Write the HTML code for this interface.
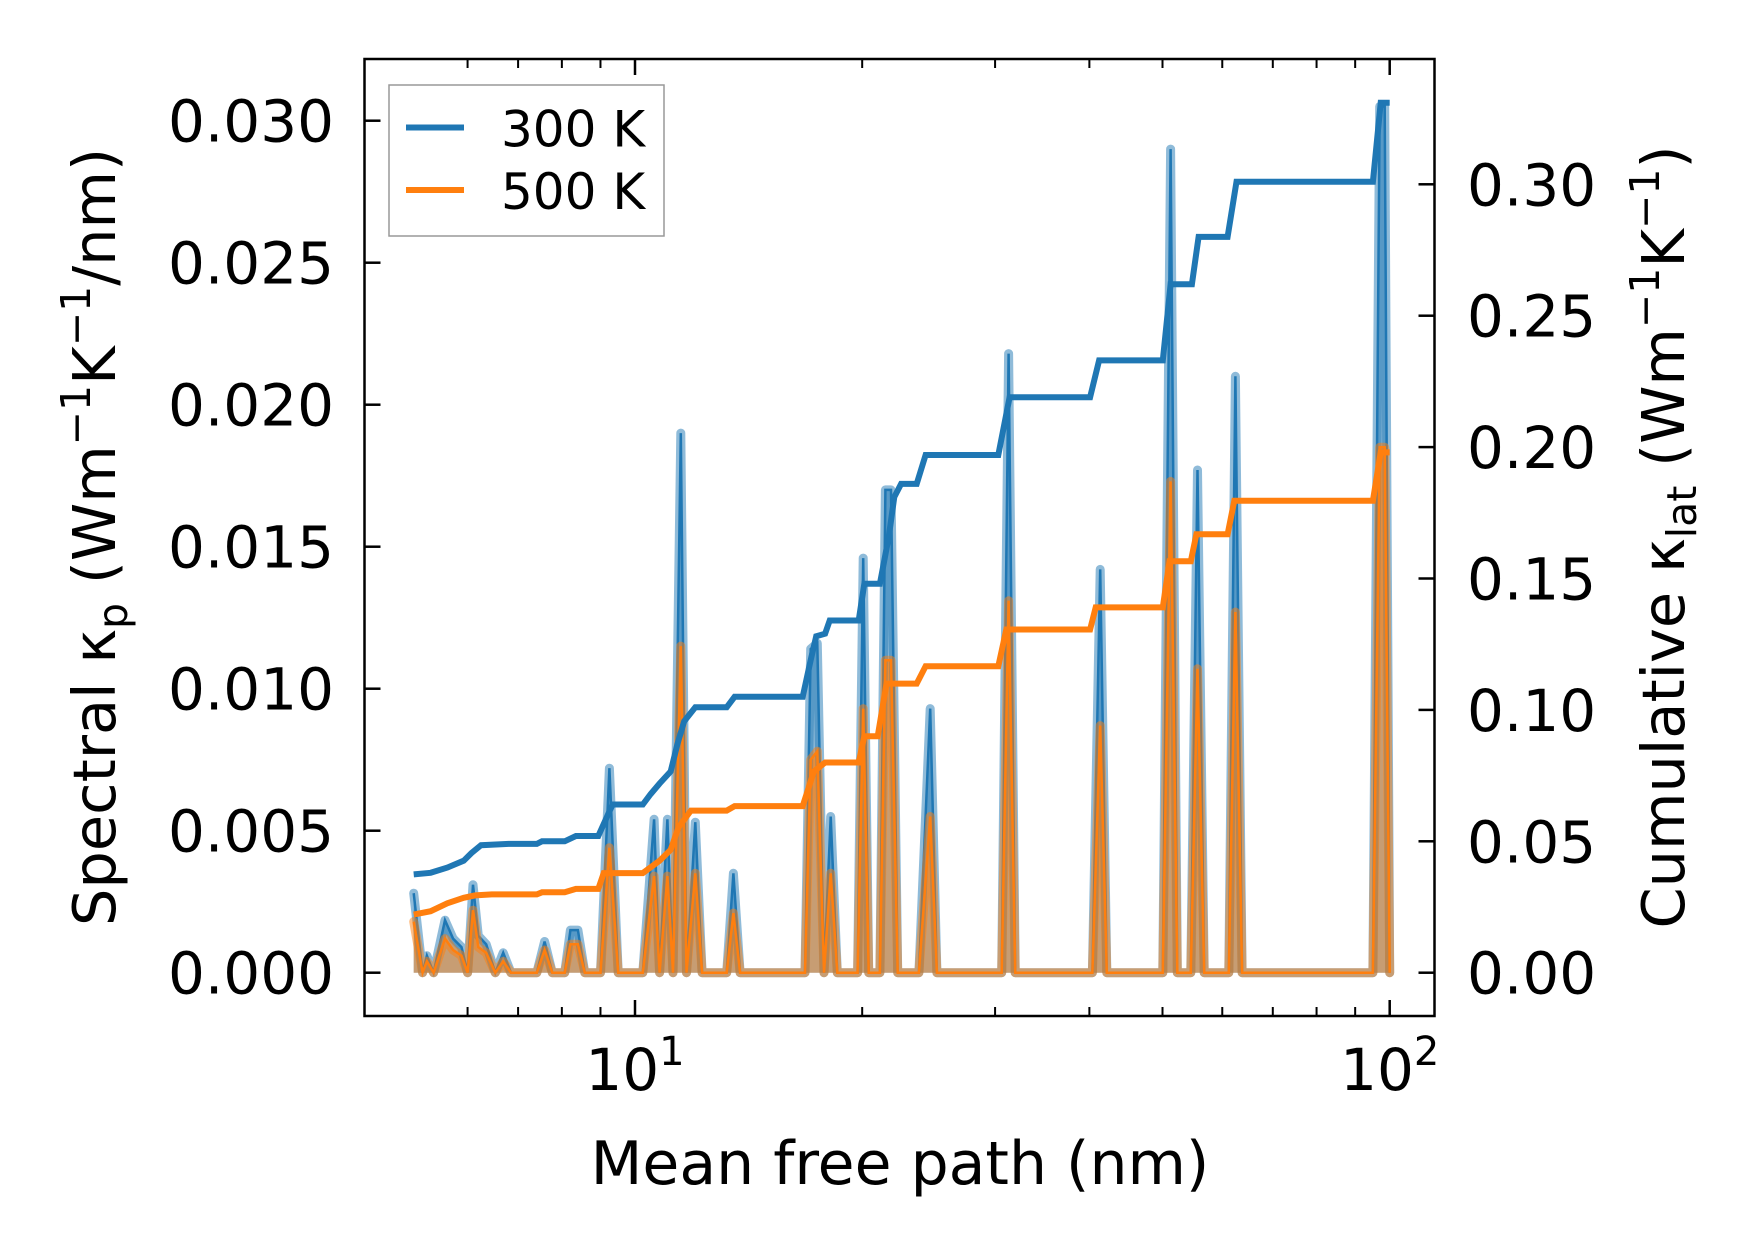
<!DOCTYPE html>
<html><head><meta charset="utf-8"><style>
html,body{margin:0;padding:0;background:#fff;}
svg{display:block;font-family:"DejaVu Sans","Liberation Sans",sans-serif;}
</style></head><body>
<svg id="chart" width="1753" height="1254" viewBox="0 0 1753 1254">
<g id="plot"></g>
</svg>
<script>
// ---- data ----
const specX = [5.09,5.23,5.30,5.41,5.60,5.74,5.89,6.00,6.10,6.20,6.35,6.53,6.69,6.85,7.41,7.59,7.77,8.07,8.21,8.40,8.58,9.00,9.25,9.50,10.24,10.60,10.78,11.04,11.23,11.50,11.70,12.02,12.27,13.23,13.50,13.78,16.80,17.09,17.44,17.80,18.17,18.54,19.72,20.06,20.40,21.11,21.47,21.84,22.29,23.78,24.61,25.12,30.61,31.26,31.90,40.37,41.34,42.19,50.04,51.25,52.31,54.50,55.63,56.78,61.20,62.46,63.74,95.0,97.0,98.5,100];
const spec300 = [0.0028,0,0.0006,0,0.00185,0.0012,0.0009,0,0.0031,0.0013,0.0010,0,0.0007,0,0,0.0011,0,0,0.0015,0.0015,0,0,0.0072,0,0,0.0054,0,0.0054,0,0.0190,0,0.0053,0,0,0.0035,0,0,0.0114,0.0116,0,0.0055,0,0,0.0146,0,0,0.0170,0.0170,0,0,0.0093,0,0,0.0218,0,0,0.0142,0,0,0.0290,0,0,0.0177,0,0,0.0210,0,0,0.0305,0.0305,0];
const spec500 = [0.0018,0,0.0004,0,0.0012,0.0008,0.0006,0,0.0022,0.0009,0.0007,0,0.0004,0,0,0.0008,0,0,0.0010,0.0010,0,0,0.0044,0,0,0.0034,0,0.0034,0,0.0115,0,0.0035,0,0,0.0021,0,0,0.0075,0.0078,0,0.0035,0,0,0.0093,0,0,0.0110,0.0110,0,0,0.0055,0,0,0.0131,0,0,0.0087,0,0,0.0173,0,0,0.0107,0,0,0.0127,0,0,0.0185,0.0185,0];
const cum300X = [5.09,5.36,5.64,5.93,6.07,6.25,6.80,7.41,7.53,8.07,8.35,8.94,9.09,9.34,10.24,10.49,10.78,11.15,11.38,11.62,12.02,13.23,13.55,16.68,17.09,17.38,17.86,18.11,19.79,20.13,21.11,21.69,22.06,22.52,23.62,24.27,30.30,31.36,40.09,41.20,50.04,51.25,54.69,55.82,60.99,62.66,95.0,97.3,100];
const cum300 = [0.0374,0.038,0.040,0.0426,0.0455,0.0485,0.049,0.049,0.050,0.050,0.052,0.052,0.0566,0.064,0.064,0.068,0.072,0.0766,0.087,0.0957,0.101,0.101,0.105,0.105,0.119,0.128,0.129,0.134,0.134,0.148,0.148,0.166,0.181,0.186,0.186,0.197,0.197,0.219,0.219,0.233,0.233,0.262,0.262,0.280,0.280,0.301,0.301,0.331,0.331];
const cum500X = [5.09,5.36,5.64,5.93,6.14,6.46,7.41,7.53,8.07,8.35,8.94,9.09,10.24,10.78,11.15,11.42,11.86,13.23,13.55,16.68,17.26,17.86,19.79,20.13,20.97,21.54,23.62,24.27,30.30,31.04,40.09,40.78,50.04,51.07,54.50,55.44,60.99,62.25,95.0,97.3,100];
const cum500 = [0.0221,0.0234,0.0264,0.0285,0.0294,0.0298,0.0298,0.0306,0.0306,0.0319,0.0319,0.0379,0.0379,0.0426,0.0468,0.0553,0.0617,0.0617,0.0634,0.0634,0.0766,0.080,0.080,0.090,0.090,0.110,0.110,0.1166,0.1166,0.1306,0.1306,0.139,0.139,0.1566,0.1566,0.1668,0.1668,0.1796,0.1796,0.198,0.198];
const leftTicks = [0,0.005,0.010,0.015,0.020,0.025,0.030];
const leftTickLabels = ["0.000","0.005","0.010","0.015","0.020","0.025","0.030"];
const rightTicks = [0,0.05,0.10,0.15,0.20,0.25,0.30];
const rightTickLabels = ["0.00","0.05","0.10","0.15","0.20","0.25","0.30"];
const xMajor = [10,100];
const xMajorExp = ["1","2"];
const xMinor = [6,7,8,9,20,30,40,50,60,70,80,90];

// ---- axes ----
const L=364.5,R=1434.5,T=59,B=1016;
const xs = v => 635 + (Math.log10(v)-1)*754.7;
const yl = v => 972.7 - v*(142/0.005);
const yr = v => 972.7 - v*(131.4/0.05);
const NS="http://www.w3.org/2000/svg";
const g=document.getElementById('plot');
function mk(tag,attrs,parent){const e=document.createElementNS(NS,tag);for(const k in attrs)e.setAttribute(k,attrs[k]);(parent||g).appendChild(e);return e;}
const C1="#1f77b4",C2="#ff7f0e";

function pts(X,Y,fy){return X.map((x,i)=>xs(x).toFixed(1)+","+fy(Y[i]).toFixed(1)).join(" ");}
function fillPts(X,Y,fy){return xs(X[0]).toFixed(1)+","+fy(0)+" "+pts(X,Y,fy)+" "+xs(X[X.length-1]).toFixed(1)+","+fy(0);}

let e=mk('polygon',{points:fillPts(specX,spec300,yl),fill:C1,'fill-opacity':0.5});


e=mk('polygon',{points:fillPts(specX,spec500,yl),fill:C2,'fill-opacity':0.5});


e=mk('polyline',{points:pts(specX,spec300,yl),fill:'none',stroke:C1,'stroke-opacity':0.5,'stroke-width':9,'stroke-linejoin':'round','stroke-linecap':'round'});


e=mk('polyline',{points:pts(specX,spec300,yl),fill:'none',stroke:C1,'stroke-width':2.5});


e=mk('polyline',{points:pts(specX,spec500,yl),fill:'none',stroke:C2,'stroke-opacity':0.5,'stroke-width':9,'stroke-linejoin':'round','stroke-linecap':'round'});


e=mk('polyline',{points:pts(specX,spec500,yl),fill:'none',stroke:C2,'stroke-width':2.5});


e=mk('polyline',{points:pts(cum300X,cum300,yr),fill:'none',stroke:C1,'stroke-width':6});


e=mk('polyline',{points:pts(cum500X,cum500,yr),fill:'none',stroke:C2,'stroke-width':6});



e=mk('rect',{x:L,y:T,width:R-L,height:B-T,fill:'none',stroke:'#000','stroke-width':2.5});



leftTicks.forEach((v,i)=>{
  const y=yl(v);
  mk('line',{x1:L,x2:L+16,y1:y,y2:y,stroke:'#000','stroke-width':2.5});
  const t=mk('text',{x:334,y:y+21,'text-anchor':'end','font-size':58});
  t.textContent=leftTickLabels[i];
  
  
});
rightTicks.forEach((v,i)=>{
  const y=yr(v);
  mk('line',{x1:R-16,x2:R,y1:y,y2:y,stroke:'#000','stroke-width':2.5});
  const t=mk('text',{x:1467,y:y+21,'text-anchor':'start','font-size':58});
  t.textContent=rightTickLabels[i];
  
  
});
xMajor.forEach((v,i)=>{
  const x=xs(v);
  mk('line',{x1:x,x2:x,y1:B,y2:B-16,stroke:'#000','stroke-width':2.5});
  mk('line',{x1:x,x2:x,y1:T,y2:T+16,stroke:'#000','stroke-width':2.5});
  const t=mk('text',{x:x,y:1090,'text-anchor':'middle','font-size':58});
  t.innerHTML='10<tspan dy="-25" font-size="40">'+xMajorExp[i]+'</tspan>';
  
  
});
xMinor.forEach(v=>{
  const x=xs(v);
  mk('line',{x1:x,x2:x,y1:B,y2:B-9,stroke:'#000','stroke-width':2});
  mk('line',{x1:x,x2:x,y1:T,y2:T+9,stroke:'#000','stroke-width':2});
});

let t=mk('text',{x:900,y:1184,'text-anchor':'middle','font-size':60});
t.textContent='Mean free path (nm)';


t=mk('text',{x:0,y:0,'text-anchor':'middle','font-size':59,transform:'translate(115,537) rotate(-90)'});
t.innerHTML='Spectral κ<tspan dy="12" font-size="41">p</tspan><tspan dy="-12"> (Wm</tspan><tspan dy="-25" font-size="41">−1</tspan><tspan dy="25">K</tspan><tspan dy="-25" font-size="41">−1</tspan><tspan dy="25">/nm)</tspan>';


t=mk('text',{x:0,y:0,'text-anchor':'middle','font-size':59,transform:'translate(1684,537) rotate(-90)'});
t.innerHTML='Cumulative κ<tspan dy="12" font-size="41">lat</tspan><tspan dy="-12"> (Wm</tspan><tspan dy="-25" font-size="41">−1</tspan><tspan dy="25">K</tspan><tspan dy="-25" font-size="41">−1</tspan><tspan dy="25">)</tspan>';



const lg=mk('g',{});


mk('rect',{x:389,y:85,width:275,height:151,fill:'#fff','fill-opacity':0.8,stroke:'#999','stroke-width':1.5},lg);
[[C1,'300 K',127.5],[C2,'500 K',190]].forEach(([c,lab,y])=>{
  const en=mk('g',{},lg);
  
  
  mk('line',{x1:406,x2:464,y1:y,y2:y,stroke:c,'stroke-width':6},en);
  const tt=mk('text',{x:501,y:y+19,'font-size':50},en);
  tt.textContent=lab;
});
</script>
</body></html>
